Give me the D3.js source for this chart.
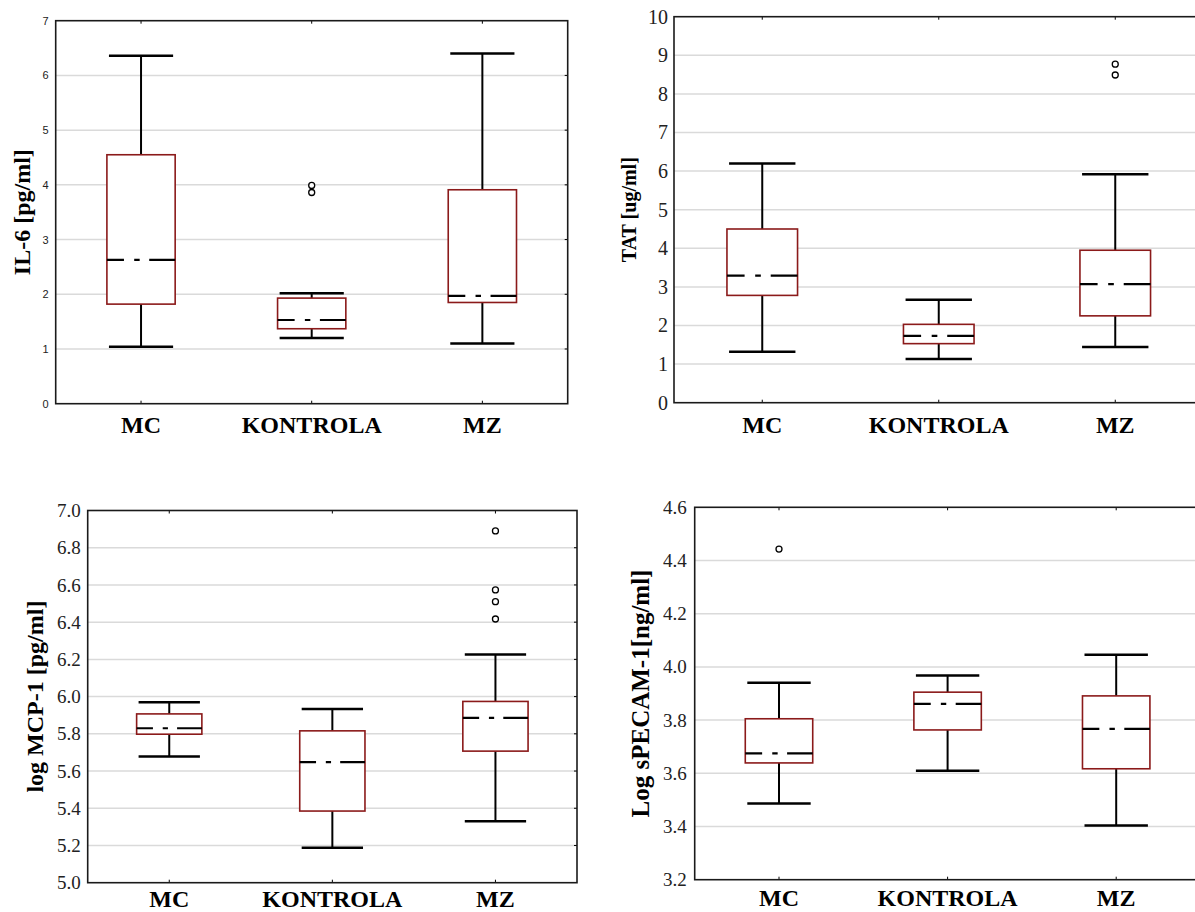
<!DOCTYPE html>
<html><head><meta charset="utf-8">
<script src="https://cdn.jsdelivr.net/npm/d3@7"></script>
<style>body{margin:0;background:#fff;overflow:hidden}svg{display:block}
.serif{font-family:"Liberation Serif","Times New Roman",serif}
.sans{font-family:"Liberation Sans",Arial,sans-serif}
</style>
</head><body><svg id="c" width="1195" height="912"></svg>
<script>
const categories = ["MC", "KONTROLA", "MZ"];

// IL-6 [pg/ml]
const il6Ticks = [0, 1, 2, 3, 4, 5, 6, 7];
const il6Min = [1.04, 1.20, 1.10];
const il6Q1 = [1.82, 1.37, 1.85];
const il6Median = [2.63, 1.53, 1.97];
const il6Q3 = [4.55, 1.93, 3.91];
const il6Max = [6.36, 2.02, 6.40];
const il6Outliers = [[], [3.86, 3.99], []];

// TAT [ug/ml]
const tatTicks = [0, 1, 2, 3, 4, 5, 6, 7, 8, 9, 10];
const tatMin = [1.32, 1.13, 1.44];
const tatQ1 = [2.78, 1.53, 2.25];
const tatMedian = [3.29, 1.73, 3.07];
const tatQ3 = [4.50, 2.03, 3.95];
const tatMax = [6.20, 2.67, 5.92];
const tatOutliers = [[], [], [8.49, 8.77]];

// log MCP-1 [pg/ml]
const mcpTicks = [5.0, 5.2, 5.4, 5.6, 5.8, 6.0, 6.2, 6.4, 6.6, 6.8, 7.0];
const mcpMin = [5.678, 5.188, 5.33];
const mcpQ1 = [5.798, 5.385, 5.707];
const mcpMedian = [5.83, 5.648, 5.886];
const mcpQ3 = [5.907, 5.816, 5.974];
const mcpMax = [5.97, 5.934, 6.226];
const mcpOutliers = [[], [], [6.417, 6.51, 6.573, 6.89]];

// Log sPECAM-1 [ng/ml]
const pecamTicks = [3.2, 3.4, 3.6, 3.8, 4.0, 4.2, 4.4, 4.6];
const pecamMin = [3.486, 3.61, 3.404];
const pecamQ1 = [3.639, 3.763, 3.617];
const pecamMedian = [3.675, 3.861, 3.767];
const pecamQ3 = [3.805, 3.905, 3.891];
const pecamMax = [3.94, 3.968, 4.046];
const pecamOutliers = [[4.443], [], []];

const svg = d3.select("#c");

function drawPanel(o) {
  const g = svg.append("g");
  const x = d3.scaleBand().domain(categories).range([o.left, o.right]);
  const y = d3.scaleLinear().domain([o.ticks[0], o.ticks[o.ticks.length - 1]]).range([o.bottom, o.top]);
  const bw = x.bandwidth();
  const w = bw * 0.4;
  const cap = w * 0.47;
  const cx = c => x(c) + bw / 2;

  // grid
  g.selectAll("line.grid").data(o.ticks.slice(1, -1)).join("line")
    .attr("x1", o.left).attr("x2", o.right)
    .attr("y1", d => y(d)).attr("y2", d => y(d))
    .attr("stroke", "#dadada").attr("stroke-width", 1.5);

  // y axis labels
  const ya = d3.axisLeft(y).tickValues(o.ticks).tickFormat(o.fmt).tickSize(0).tickPadding(o.pad);
  const yg = g.append("g").attr("transform", `translate(${o.left},0)`).call(ya);
  yg.attr("font-family", null).attr("font-size", null);
  yg.select(".domain").remove();
  yg.selectAll("text").attr("class", o.tickClass).style("font-size", o.tickSize + "px").attr("fill", "#222");

  // x axis labels
  const xa = d3.axisBottom(x).tickSize(0);
  const xg = g.append("g").attr("transform", `translate(0,${o.bottom})`).call(xa);
  xg.attr("font-family", null).attr("font-size", null);
  xg.select(".domain").remove();
  xg.selectAll("text").attr("dy", null).attr("y", o.catY)
    .attr("class", "serif").style("font-weight", "bold")
    .style("font-size", "24px").attr("fill", "#000");

  // small ticks at category positions (inward, top and bottom)
  categories.forEach(c => {
    g.append("line").attr("x1", cx(c)).attr("x2", cx(c)).attr("y1", o.bottom).attr("y2", o.bottom - 3).attr("stroke", "#000");
    g.append("line").attr("x1", cx(c)).attr("x2", cx(c)).attr("y1", o.top).attr("y2", o.top + 3).attr("stroke", "#000");
  });
  o.ticks.slice(1, -1).forEach(t => {
    g.append("line").attr("x1", o.right).attr("x2", o.right - 3).attr("y1", y(t)).attr("y2", y(t)).attr("stroke", "#000");
  });

  // frame
  g.append("rect").attr("x", o.left).attr("y", o.top)
    .attr("width", o.right - o.left).attr("height", o.bottom - o.top)
    .attr("fill", "none").attr("stroke", "#1a1a1a").attr("stroke-width", 1.6);

  // axis title
  g.append("text")
    .attr("transform", `translate(${o.titleX},${(o.top + o.bottom) / 2}) rotate(-90)`)
    .attr("text-anchor", "middle").attr("dominant-baseline", "central")
    .attr("class", "serif").style("font-weight", "bold")
    .style("font-size", o.titleSize + "px").text(o.title);

  categories.forEach((c, i) => {
    const xc = cx(c);
    // whiskers
    g.append("line").attr("x1", xc).attr("x2", xc).attr("y1", y(o.max[i])).attr("y2", y(o.q3[i]))
      .attr("stroke", "#000").attr("stroke-width", 2);
    g.append("line").attr("x1", xc).attr("x2", xc).attr("y1", y(o.q1[i])).attr("y2", y(o.min[i]))
      .attr("stroke", "#000").attr("stroke-width", 2);
    g.append("line").attr("x1", xc - cap).attr("x2", xc + cap).attr("y1", y(o.max[i])).attr("y2", y(o.max[i]))
      .attr("stroke", "#000").attr("stroke-width", 2.5);
    g.append("line").attr("x1", xc - cap).attr("x2", xc + cap).attr("y1", y(o.min[i])).attr("y2", y(o.min[i]))
      .attr("stroke", "#000").attr("stroke-width", 2.5);
    // box
    g.append("rect").attr("x", xc - w / 2).attr("y", y(o.q3[i]))
      .attr("width", w).attr("height", y(o.q1[i]) - y(o.q3[i]))
      .attr("fill", "#fff").attr("stroke", "#8b1a1a").attr("stroke-width", 1.6);
    // median (dashed)
    g.append("line").attr("x1", xc - w / 2).attr("x2", xc + w / 2)
      .attr("y1", y(o.median[i])).attr("y2", y(o.median[i]))
      .attr("stroke", "#000").attr("stroke-width", 2.2)
      .attr("stroke-dasharray", [0.25 * w, 0.15 * w, 0.08 * w, 0.14 * w, 2 * w].join(","));
    // outliers
    g.selectAll(null).data(o.outliers[i]).join("circle")
      .attr("cx", xc).attr("cy", d => y(d)).attr("r", 3)
      .attr("fill", "#fff").attr("stroke", "#000").attr("stroke-width", 1.3);
  });
}

drawPanel({
  left: 55.7, right: 567.7, top: 20.7, bottom: 403.7,
  ticks: il6Ticks, fmt: d3.format("d"), tickClass: "sans", tickSize: 11, pad: 7,
  catY: 29, title: "IL-6 [pg/ml]", titleX: 22, titleSize: 24,
  min: il6Min, q1: il6Q1, median: il6Median, q3: il6Q3, max: il6Max, outliers: il6Outliers
});
drawPanel({
  left: 674, right: 1203.5, top: 16.7, bottom: 402.7,
  ticks: tatTicks, fmt: d3.format("d"), tickClass: "serif", tickSize: 20, pad: 6,
  catY: 30, title: "TAT [ug/ml]", titleX: 629, titleSize: 20,
  min: tatMin, q1: tatQ1, median: tatMedian, q3: tatQ3, max: tatMax, outliers: tatOutliers
});
drawPanel({
  left: 87.7, right: 577, top: 510.5, bottom: 882.7,
  ticks: mcpTicks, fmt: d3.format(".1f"), tickClass: "serif", tickSize: 19, pad: 7,
  catY: 24, title: "log MCP-1 [pg/ml]", titleX: 35, titleSize: 24,
  min: mcpMin, q1: mcpQ1, median: mcpMedian, q3: mcpQ3, max: mcpMax, outliers: mcpOutliers
});
drawPanel({
  left: 694.7, right: 1200.5, top: 507.3, bottom: 879.7,
  ticks: pecamTicks, fmt: d3.format(".1f"), tickClass: "serif", tickSize: 19, pad: 8,
  catY: 26, title: "Log sPECAM-1[ng/ml]", titleX: 640, titleSize: 25,
  min: pecamMin, q1: pecamQ1, median: pecamMedian, q3: pecamQ3, max: pecamMax, outliers: pecamOutliers
});
</script></body></html>
